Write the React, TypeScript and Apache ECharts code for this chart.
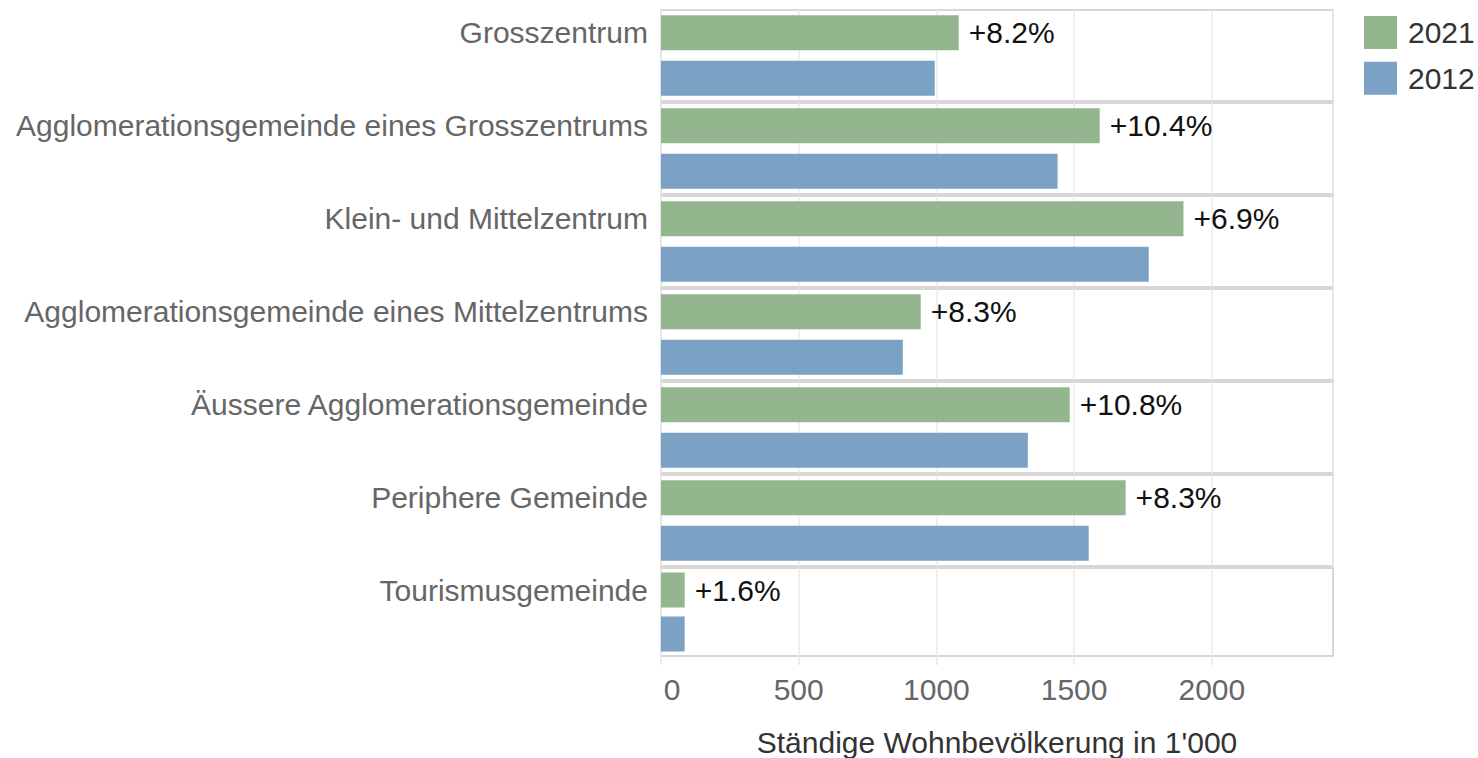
import React, { useEffect, useRef } from "react";
import * as echarts from "echarts";

const categories = [
  "Grosszentrum",
  "Agglomerationsgemeinde eines Grosszentrums",
  "Klein- und Mittelzentrum",
  "Agglomerationsgemeinde eines Mittelzentrums",
  "Äussere Agglomerationsgemeinde",
  "Periphere Gemeinde",
  "Tourismusgemeinde",
];
const values2021 = [1081, 1593, 1897, 943, 1484, 1687, 86];
const values2012 = [994, 1440, 1771, 878, 1332, 1553, 86];
const changeLabels = ["+8.2%", "+10.4%", "+6.9%", "+8.3%", "+10.8%", "+8.3%", "+1.6%"];
const xTicks = [0, 500, 1000, 1500, 2000];
const xMax = 2440;
const seriesNames = ["2021", "2012"];
const xTitle = "Ständige Wohnbevölkerung in 1'000";

const FONT = "'Liberation Sans', Arial, sans-serif";
const GREEN = "#93b68e";
const BLUE = "#7ba1c4";

export default function App() {
  const ref = useRef<HTMLDivElement>(null);
  useEffect(() => {
    if (!ref.current) return;
    const chart = echarts.init(ref.current, undefined, { renderer: "svg" });
    const n = categories.length;
    const grids: any[] = [];
    const xAxes: any[] = [];
    const yAxes: any[] = [];
    const series: any[] = [];
    for (let i = 0; i < n; i++) {
      const last = i === n - 1;
      grids.push({
        left: 661,
        width: 672,
        top: 10 + i * 93,
        height: 91,
        show: true,
        borderColor: "#cacaca",
        borderWidth: 1.5,
        backgroundColor: "transparent",
      });
      xAxes.push({
        type: "value",
        gridIndex: i,
        min: 0,
        max: xMax,
        interval: 500,
        axisLine: { show: false },
        axisTick: last
          ? { show: true, length: 9, customValues: xTicks, lineStyle: { color: "#e6e6e6", width: 1.5 } }
          : { show: false },
        axisLabel: last
          ? {
              show: true,
              customValues: xTicks,
              fontSize: 30,
              fontFamily: FONT,
              color: "#666666",
              margin: 18,
              formatter: (v: number) => (v === 0 ? "{z|0}" : String(v)),
              rich: { z: { fontSize: 30, fontFamily: FONT, color: "#666666", padding: [0, 0, 0, 22] } },
            }
          : { show: false },
        splitLine: { show: true, lineStyle: { color: "#ebebeb", width: 1.5 } },
        name: last ? xTitle : "",
        nameLocation: "middle",
        nameGap: 71,
        nameTextStyle: { fontSize: 30, fontFamily: FONT, color: "#333333" },
      });
      yAxes.push({
        type: "category",
        gridIndex: i,
        inverse: true,
        data: [categories[i], ""],
        axisLine: { show: false },
        axisTick: { show: false },
        axisLabel: { fontSize: 30, fontFamily: FONT, color: "#666666", margin: 13 },
        splitLine: { show: false },
      });
      series.push({
        type: "bar",
        name: seriesNames[0],
        xAxisIndex: i,
        yAxisIndex: i,
        data: [values2021[i], "-"],
        barWidth: 35,
        barGap: "-100%",
        itemStyle: { color: GREEN },
        label: {
          show: true,
          position: "right",
          distance: 10,
          fontSize: 30,
          fontFamily: FONT,
          color: "#111111",
          formatter: () => changeLabels[i],
        },
      });
      series.push({
        type: "bar",
        name: seriesNames[1],
        xAxisIndex: i,
        yAxisIndex: i,
        data: ["-", values2012[i]],
        barWidth: 35,
        barGap: "-100%",
        itemStyle: { color: BLUE },
      });
    }
    chart.setOption({
      animation: false,
      backgroundColor: "#ffffff",
      color: [GREEN, BLUE],
      legend: {
        data: seriesNames,
        orient: "vertical",
        left: 1364,
        top: 16,
        padding: 0,
        itemWidth: 33,
        itemHeight: 33,
        itemGap: 12.7,
        icon: "rect",
        textStyle: { fontSize: 30, fontFamily: FONT, color: "#333333", padding: [0, 0, 0, 6] },
      },
      grid: grids,
      xAxis: xAxes,
      yAxis: yAxes,
      series,
    });
    return () => chart.dispose();
  }, []);
  return (
    <div
      ref={ref}
      style={{ position: "fixed", left: 0, top: 0, width: 1478, height: 758 }}
    />
  );
}
